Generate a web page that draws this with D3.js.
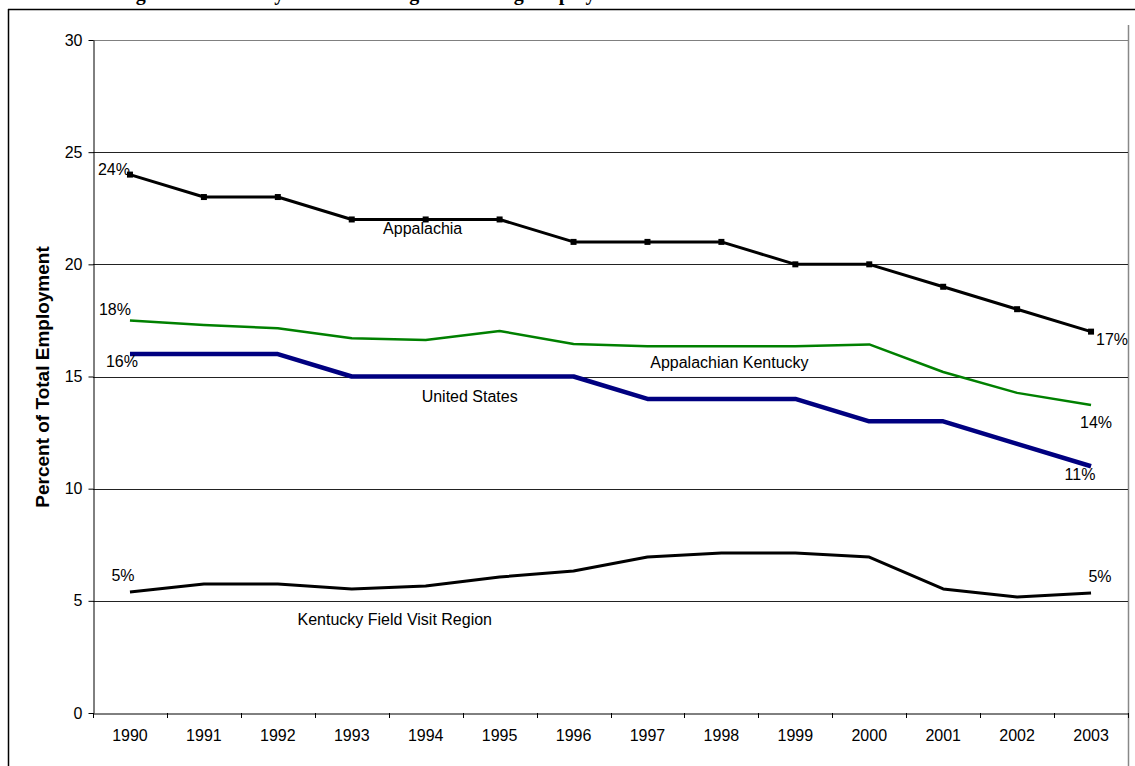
<!DOCTYPE html>
<html>
<head>
<meta charset="utf-8">
<script src="https://cdn.jsdelivr.net/npm/d3@7"></script>
<style>
  body { margin: 0; background: #fff; }
  text { font-family: "Liberation Sans", Arial, sans-serif; fill: #000; }
</style>
</head>
<body>
<div id="chart"></div>
<script>
// data
const years = [1990,1991,1992,1993,1994,1995,1996,1997,1998,1999,2000,2001,2002,2003];
const appalachia = [24,23,23,22,22,22,21,21,21,20,20,19,18,17];
const appKentucky = [17.5,17.3,17.15,16.7,16.63,17.03,16.45,16.35,16.35,16.35,16.43,15.2,14.27,13.73];
const unitedStates = [16,16,16,15,15,15,15,14,14,14,13,13,12,11];
const fieldRegion = [5.39,5.75,5.75,5.53,5.66,6.06,6.33,6.95,7.13,7.13,6.95,5.53,5.17,5.35];
const yTicks = [0,5,10,15,20,25,30];

const width = 1135;
const height = 766;
const margin = {top: 40, left: 93, right: 7, bottom: 53};

const svg = d3.select("#chart")
    .append("svg")
    .attr("width", width)
    .attr("height", height);

const xScale = d3.scaleBand()
    .domain(years)
    .range([margin.left, width - margin.right])
    .padding(0);

const yScale = d3.scaleLinear()
    .domain([0, 30])
    .range([height - margin.bottom, margin.top]);

const cx = function(yr) { return xScale(yr) + xScale.bandwidth() / 2; };

/*
TITLE (cut off by the top of the page, as in the source) + FRAME
*/
svg.append("text")
    .attr("x", 118)
    .attr("y", 0)
    .style("font-family", "'Liberation Serif', 'Times New Roman', serif")
    .style("font-weight", "bold")
    .style("font-size", "20px")
    .text("Figure 4: Kentucky Manufacturing and Mining Employment");

svg.append("line")
    .attr("x1", 8).attr("x2", width)
    .attr("y1", 9.5).attr("y2", 9.5)
    .attr("stroke", "#000").attr("stroke-width", 1.5);

svg.append("line")
    .attr("x1", 8.5).attr("x2", 8.5)
    .attr("y1", 9).attr("y2", height)
    .attr("stroke", "#000").attr("stroke-width", 1.5);

svg.append("line")
    .attr("x1", width - margin.right + 0.5).attr("x2", width - margin.right + 0.5)
    .attr("y1", 25).attr("y2", height)
    .attr("stroke", "#888").attr("stroke-width", 1.5);

/*
GRIDLINES + AXES
*/
svg.append("g")
    .selectAll("line")
    .data(yTicks.filter(function(d) { return d > 0; }))
    .enter()
    .append("line")
        .attr("x1", margin.left)
        .attr("x2", width - margin.right)
        .attr("y1", function(d) { return Math.round(yScale(d)) + 0.5; })
        .attr("y2", function(d) { return Math.round(yScale(d)) + 0.5; })
        .attr("stroke", function(d) { return d === 30 ? "#808080" : "#222"; })
        .attr("stroke-width", 1);

const yAxis = svg.append("g")
    .attr("transform", `translate(${margin.left + 0.5},0)`)
    .call(d3.axisLeft(yScale).tickValues(yTicks).tickSize(5).tickPadding(6).tickSizeOuter(0));

yAxis.selectAll("text").style("font-size", "16px").style("font-family", "'Liberation Sans', Arial, sans-serif");
yAxis.selectAll("line, path").attr("stroke", "#000");

const xAxis = svg.append("g")
    .attr("transform", `translate(0,${height - margin.bottom + 0.5})`)
    .call(d3.axisBottom(xScale).tickSize(0).tickPadding(16).tickSizeOuter(0));

xAxis.selectAll("text").style("font-size", "16px").style("font-family", "'Liberation Sans', Arial, sans-serif");
xAxis.select("path").attr("stroke", "#000");

// tick marks at the category boundaries
svg.append("g")
    .selectAll("line")
    .data(years.concat([null]))
    .enter()
    .append("line")
        .attr("x1", function(d, i) { return Math.round(margin.left + i * xScale.bandwidth()) + 0.5; })
        .attr("x2", function(d, i) { return Math.round(margin.left + i * xScale.bandwidth()) + 0.5; })
        .attr("y1", height - margin.bottom)
        .attr("y2", height - margin.bottom + 5)
        .attr("stroke", "#000");

svg.append("text")
    .attr("transform", "rotate(-90)")
    .attr("x", -377)
    .attr("y", 49)
    .attr("text-anchor", "middle")
    .style("font-weight", "bold")
    .style("font-size", "19px")
    .text("Percent of Total Employment");

/*
LINES
*/
const series = [
    {values: fieldRegion, color: "#000", width: 3},
    {values: appKentucky, color: "#008000", width: 2.5},
    {values: unitedStates, color: "#000080", width: 4.5},
    {values: appalachia, color: "#000", width: 3}
];

const line = d3.line()
    .x(function(d, i) { return cx(years[i]); })
    .y(function(d) { return yScale(d); });

series.forEach(function(s) {
    svg.append("path")
        .datum(s.values)
        .attr("d", line)
        .attr("fill", "none")
        .attr("stroke", s.color)
        .attr("stroke-width", s.width)
        .attr("stroke-linejoin", "round");
});

svg.selectAll("rect.marker")
    .data(appalachia)
    .enter()
    .append("rect")
        .attr("class", "marker")
        .attr("x", function(d, i) { return cx(years[i]) - 3; })
        .attr("y", function(d) { return yScale(d) - 3; })
        .attr("width", 6)
        .attr("height", 6)
        .attr("fill", "#000");

/*
DATA LABELS + SERIES NAMES
*/
const last = years.length - 1;
const labels = [
    {t: "24%", yr: 0, v: appalachia[0], dx: 0, dy: 0, a: "end"},
    {t: "17%", yr: last, v: appalachia[last], dx: 5, dy: 13, a: "start"},
    {t: "18%", yr: 0, v: appKentucky[0], dx: 1, dy: -5, a: "end"},
    {t: "16%", yr: 0, v: unitedStates[0], dx: -8, dy: 13, a: "middle"},
    {t: "14%", yr: last, v: appKentucky[last], dx: 5, dy: 23, a: "middle"},
    {t: "11%", yr: last, v: unitedStates[last], dx: -11, dy: 14, a: "middle"},
    {t: "5%", yr: 0, v: fieldRegion[0], dx: -7, dy: -11, a: "middle"},
    {t: "5%", yr: last, v: fieldRegion[last], dx: 9, dy: -11, a: "middle"},
    {t: "Appalachia", yr: 4, v: appalachia[4], dx: -3, dy: 15, a: "middle"},
    {t: "Appalachian Kentucky", yr: 8, v: appKentucky[8], dx: 8, dy: 22, a: "middle"},
    {t: "United States", yr: 4, v: unitedStates[4], dx: 44, dy: 25, a: "middle"},
    {t: "Kentucky Field Visit Region", yr: 3, v: fieldRegion[3], dx: 43, dy: 36, a: "middle"}
];

labels.forEach(function(l) {
    svg.append("text")
        .attr("x", cx(years[l.yr]) + l.dx)
        .attr("y", yScale(l.v) + l.dy)
        .attr("text-anchor", l.a)
        .style("font-size", "16px")
        .text(l.t);
});
</script>
</body>
</html>
